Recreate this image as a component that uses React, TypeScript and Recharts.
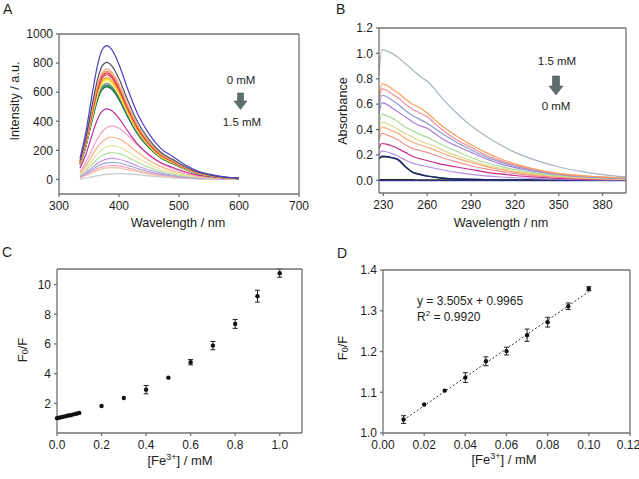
import React from "react";
import {
  LineChart,
  Line,
  XAxis,
  YAxis,
  ScatterChart,
  Scatter,
  ErrorBar,
  ReferenceLine,
} from "recharts";

const FONT = '"Liberation Sans", Arial, Helvetica, sans-serif';
const AXIS = "#707070";
const TICK = { fill: "#1e1e1e", fontSize: 12, fontFamily: FONT };

// ---- A: emission spectra, 0 mM (top) -> 1.5 mM (bottom) ----
const wlA = [335, 345, 355, 365, 372, 380, 388, 400, 415, 430, 450, 470, 490, 510, 530, 550, 575, 600];
const emA01 = [147, 331, 580, 800, 892, 920, 892, 791, 616, 460, 313, 212, 156, 101, 60, 37, 18, 9];
const emA02 = [129, 290, 507, 700, 781, 805, 781, 692, 539, 403, 274, 185, 137, 89, 52, 32, 16, 8];
const emA03 = [122, 274, 479, 661, 737, 760, 737, 654, 509, 380, 258, 175, 129, 84, 49, 30, 15, 8];
const emA04 = [119, 268, 469, 648, 723, 745, 723, 641, 499, 373, 253, 171, 127, 82, 48, 30, 15, 7];
const emA05 = [117, 264, 462, 638, 711, 733, 711, 630, 491, 367, 249, 169, 125, 81, 48, 29, 15, 7];
const emA06 = [115, 259, 454, 626, 698, 720, 698, 619, 482, 360, 245, 166, 122, 79, 47, 29, 14, 7];
const emA07 = [112, 252, 441, 609, 679, 700, 679, 602, 469, 350, 238, 161, 119, 77, 46, 28, 14, 7];
const emA08 = [110, 248, 433, 599, 667, 688, 667, 592, 461, 344, 234, 158, 117, 76, 45, 28, 14, 7];
const emA09 = [108, 243, 425, 587, 655, 675, 655, 581, 452, 338, 230, 155, 115, 74, 44, 27, 14, 7];
const emA10 = [106, 238, 416, 574, 640, 660, 640, 568, 442, 330, 224, 152, 112, 73, 43, 26, 13, 7];
const emA11 = [104, 233, 408, 564, 629, 648, 629, 557, 434, 324, 220, 149, 110, 71, 42, 26, 13, 6];
const emA12 = [102, 230, 402, 555, 619, 638, 619, 549, 427, 319, 217, 147, 108, 70, 41, 26, 13, 6];
const emA13 = [78, 175, 306, 422, 470, 485, 472, 420, 330, 248, 170, 115, 82, 53, 32, 20, 10, 5];
const emA14 = [55, 121, 206, 287, 328, 357, 368, 353, 302, 239, 166, 110, 74, 48, 29, 18, 9, 4];
const emA15 = [44, 96, 164, 228, 260, 283, 292, 280, 239, 190, 131, 88, 58, 38, 23, 15, 7, 3];
const emA16 = [35, 77, 130, 181, 206, 225, 232, 223, 190, 151, 104, 70, 46, 30, 19, 12, 6, 2];
const emA17 = [28, 61, 104, 144, 165, 179, 185, 178, 152, 120, 83, 56, 37, 24, 15, 9, 5, 2];
const emA18 = [22, 48, 81, 113, 129, 141, 145, 139, 119, 94, 65, 44, 29, 19, 12, 7, 4, 1];
const emA19 = [18, 39, 66, 92, 105, 114, 118, 113, 97, 77, 53, 35, 24, 15, 9, 6, 3, 1];
const emA20 = [15, 32, 54, 76, 86, 94, 97, 93, 80, 63, 44, 29, 19, 13, 8, 5, 2, 1];
const emA21 = [12, 27, 46, 64, 73, 80, 82, 79, 67, 53, 37, 25, 16, 11, 7, 4, 2, 1];
const emA22 = [2, 10, 18, 26, 31, 35, 38, 40, 38, 33, 24, 17, 11, 7, 4, 3, 1, 0];
const seriesA = [emA01, emA02, emA03, emA04, emA05, emA06, emA07, emA08, emA09, emA10, emA11,
  emA12, emA13, emA14, emA15, emA16, emA17, emA18, emA19, emA20, emA21, emA22];
const colorsA = ["#4b3fc0", "#4d5068", "#f2a86a", "#f08c78", "#e8342e", "#d8285a", "#f7a21a",
  "#f2e21e", "#f4ee7a", "#6f8a86", "#1f8a48", "#0b5a36", "#c0309a", "#f4a0c8", "#f8ad84",
  "#e6e29c", "#b2e39a", "#c49ae4", "#98acd0", "#f4a8c8", "#f9c09a", "#c4ccd4"];
const xTicksA = [300, 400, 500, 600, 700];
const yTicksA = [0, 200, 400, 600, 800, 1000];

// ---- B: absorption spectra, 1.5 mM (top) -> 0 mM (bottom) ----
const wlB = [227, 229, 232, 236, 240, 245, 250, 255, 260, 265, 270, 280, 290, 300, 310, 320, 335, 350, 365, 380, 396];
const abB01 = [0.84, 1.03, 1.02, 1.0, 0.97, 0.92, 0.87, 0.82, 0.78, 0.72, 0.65, 0.53, 0.43, 0.35, 0.28, 0.22, 0.155, 0.105, 0.07, 0.045, 0.027];
const abB02 = [0.64, 0.76, 0.75, 0.72, 0.69, 0.64, 0.6, 0.57, 0.53, 0.48, 0.43, 0.35, 0.28, 0.22, 0.17, 0.13, 0.085, 0.055, 0.038, 0.027, 0.018];
const abB03 = [0.6, 0.72, 0.71, 0.68, 0.65, 0.6, 0.56, 0.53, 0.5, 0.45, 0.4, 0.32, 0.26, 0.2, 0.155, 0.12, 0.08, 0.05, 0.035, 0.025, 0.016];
const abB04 = [0.56, 0.67, 0.66, 0.63, 0.6, 0.55, 0.51, 0.48, 0.45, 0.41, 0.37, 0.3, 0.24, 0.185, 0.145, 0.11, 0.075, 0.048, 0.032, 0.022, 0.015];
const abB05 = [0.52, 0.61, 0.6, 0.57, 0.54, 0.5, 0.46, 0.43, 0.41, 0.37, 0.33, 0.27, 0.22, 0.17, 0.13, 0.1, 0.068, 0.044, 0.03, 0.02, 0.014];
const abB06 = [0.44, 0.52, 0.51, 0.49, 0.46, 0.42, 0.39, 0.36, 0.34, 0.31, 0.28, 0.23, 0.18, 0.14, 0.11, 0.085, 0.057, 0.037, 0.025, 0.017, 0.011];
const abB07 = [0.39, 0.46, 0.45, 0.43, 0.4, 0.37, 0.34, 0.31, 0.29, 0.27, 0.24, 0.195, 0.155, 0.12, 0.095, 0.072, 0.048, 0.032, 0.022, 0.015, 0.01];
const abB08 = [0.36, 0.42, 0.41, 0.39, 0.37, 0.33, 0.3, 0.28, 0.26, 0.24, 0.215, 0.175, 0.14, 0.11, 0.085, 0.065, 0.043, 0.028, 0.019, 0.013, 0.009];
const abB09 = [0.32, 0.37, 0.36, 0.34, 0.32, 0.28, 0.25, 0.235, 0.22, 0.2, 0.18, 0.145, 0.115, 0.09, 0.07, 0.053, 0.035, 0.023, 0.015, 0.01, 0.007];
const abB10 = [0.25, 0.29, 0.285, 0.27, 0.25, 0.22, 0.19, 0.17, 0.155, 0.14, 0.125, 0.105, 0.085, 0.065, 0.05, 0.038, 0.025, 0.016, 0.01, 0.007, 0.005];
const abB11 = [0.2, 0.23, 0.225, 0.21, 0.19, 0.16, 0.135, 0.12, 0.108, 0.095, 0.083, 0.063, 0.047, 0.035, 0.026, 0.02, 0.013, 0.009, 0.006, 0.004, 0.003];
const abB12 = [0.17, 0.19, 0.188, 0.18, 0.165, 0.11, 0.062, 0.045, 0.032, 0.024, 0.017, 0.01, 0.007, 0.005, 0.004, 0.003, 0.002, 0.002, 0.001, 0.001, 0.001];
const abB13 = [0.165, 0.185, 0.184, 0.176, 0.16, 0.105, 0.066, 0.049, 0.036, 0.027, 0.02, 0.012, 0.008, 0.006, 0.004, 0.003, 0.002, 0.002, 0.001, 0.001, 0.001];
const abB14 = [0.168, 0.187, 0.185, 0.177, 0.162, 0.108, 0.064, 0.047, 0.034, 0.025, 0.018, 0.011, 0.007, 0.005, 0.004, 0.003, 0.002, 0.001, 0.001, 0.001, 0.001];
const abB15 = [0.006, 0.006, 0.005, 0.005, 0.005, 0.005, 0.005, 0.004, 0.004, 0.004, 0.004, 0.004, 0.004, 0.003, 0.003, 0.003, 0.003, 0.003, 0.003, 0.003, 0.003];
const abB16 = [-0.002, -0.002, -0.002, -0.002, -0.002, -0.002, -0.002, -0.002, -0.002, -0.002, -0.002, -0.002, -0.002, -0.002, -0.002, -0.002, -0.002, -0.002, -0.002, -0.002, -0.002];
const seriesB = [abB01, abB02, abB03, abB04, abB05, abB06, abB07, abB08, abB09, abB10, abB11,
  abB12, abB13, abB14, abB15, abB16];
const colorsB = ["#a8b4c0", "#f7a05a", "#f48aa0", "#8c9cd0", "#a67ed6", "#a6dc96", "#e0d68a",
  "#f8a870", "#f29090", "#c8288a", "#b890e0", "#1e1e70", "#2c6a4a", "#404c68", "#222222", "#3c3cc8"];
const xTicksB = [230, 260, 290, 320, 350, 380];
const yTicksB = [0, 0.2, 0.4, 0.6, 0.8, 1.0, 1.2];

// ---- C: F0/F vs [Fe3+], full range ----
const concC = [0, 0.01, 0.02, 0.03, 0.04, 0.05, 0.06, 0.07, 0.08, 0.09, 0.1, 0.2, 0.3, 0.4, 0.5, 0.6, 0.7, 0.8, 0.9, 1.0];
const ratioC = [1.0, 1.03, 1.068, 1.104, 1.136, 1.176, 1.201, 1.24, 1.272, 1.311, 1.354, 1.82, 2.36, 2.92, 3.73, 4.77, 5.89, 7.35, 9.22, 10.77];
const errC = [0, 0, 0, 0, 0, 0, 0, 0, 0, 0, 0, 0, 0, 0.28, 0, 0.18, 0.28, 0.3, 0.4, 0.28];
const xTicksC = [0, 0.2, 0.4, 0.6, 0.8, 1.0];
const yTicksC = [2, 4, 6, 8, 10];

// ---- D: linear range ----
const concD = [0.01, 0.02, 0.03, 0.04, 0.05, 0.06, 0.07, 0.08, 0.09, 0.1];
const ratioD = [1.033, 1.07, 1.104, 1.136, 1.176, 1.201, 1.24, 1.272, 1.311, 1.354];
const errD = [0.0095, 0, 0, 0.012, 0.011, 0.0095, 0.015, 0.012, 0.008, 0.005];
const fitX = [0.01, 0.1];
const fitY = [1.032, 1.347];
const xTicksD = [0, 0.02, 0.04, 0.06, 0.08, 0.1, 0.12];
const yTicksD = [1.0, 1.1, 1.2, 1.3, 1.4];

const dataA = wlA.map((w, i) => {
  const row: any = { w };
  seriesA.forEach((s, k) => (row["s" + k] = s[i]));
  return row;
});
const dataB = wlB.map((w, i) => {
  const row: any = { w };
  seriesB.forEach((s, k) => (row["s" + k] = s[i]));
  return row;
});
const dataC = concC.map((x, i) => ({ x, y: ratioC[i], e: errC[i] }));
const dataD = concD.map((x, i) => ({ x, y: ratioD[i], e: errD[i] }));

// top / right mirror axes to close the box (size 1, a zero size is not drawn)
function frame(xd: number[], xt: number[], yd: number[], yt: number[]) {
  return [
    <XAxis key="xt" xAxisId="top" orientation="top" type="number" domain={xd} ticks={xt}
      tick={false} height={1} stroke={AXIS} strokeWidth={1.3} tickSize={3} allowDataOverflow />,
    <YAxis key="yr" yAxisId="right" orientation="right" type="number" domain={yd} ticks={yt}
      tick={false} width={1} stroke={AXIS} strokeWidth={1.3} tickSize={3} allowDataOverflow />,
  ];
}

const dot = (p: any) => <circle cx={p.cx} cy={p.cy} r={2.2} fill="#111" />;

export default function App() {
  return (
    <div style={{ position: "absolute", left: 0, top: 0, width: 639, height: 479, background: "#fff", fontFamily: FONT }}>
      <div style={{ position: "absolute", left: 0, top: 0 }}>
        <LineChart width={320} height={240} data={dataA} margin={{ top: 33, right: 20, bottom: 16, left: 14 }}>
          <XAxis dataKey="w" type="number" domain={[300, 700]} ticks={xTicksA} tick={TICK}
            stroke={AXIS} strokeWidth={1.3} tickSize={3} tickMargin={4} height={30} />
          <YAxis type="number" domain={[-100, 1000]} ticks={yTicksA} tick={TICK}
            stroke={AXIS} strokeWidth={1.3} tickSize={3} tickMargin={3} width={45} />
          {frame([300, 700], xTicksA, [-100, 1000], yTicksA)}
          {seriesA.map((_, k) => seriesA.length - 1 - k).map((k) => (
            <Line key={k} dataKey={"s" + k} type="monotone" stroke={colorsA[k]} strokeWidth={1.2}
              dot={false} isAnimationActive={false} />
          ))}
        </LineChart>
      </div>

      <div style={{ position: "absolute", left: 320, top: 0 }}>
        <LineChart width={319} height={240} data={dataB} margin={{ top: 27, right: 12, bottom: 17, left: 14 }}>
          <XAxis dataKey="w" type="number" domain={[227, 396]} ticks={xTicksB} tick={TICK}
            stroke={AXIS} strokeWidth={1.3} tickSize={3} tickMargin={4} height={30} allowDataOverflow />
          <YAxis type="number" domain={[-0.1, 1.2]} ticks={yTicksB} tick={TICK}
            tickFormatter={(v: number) => v.toFixed(1)}
            stroke={AXIS} strokeWidth={1.3} tickSize={3} tickMargin={3} width={45} />
          {frame([227, 396], xTicksB, [-0.1, 1.2], yTicksB)}
          {seriesB.map((_, k) => seriesB.length - 1 - k).map((k) => (
            <Line key={k} dataKey={"s" + k} type="monotone" stroke={colorsB[k]} strokeWidth={1.2}
              dot={false} isAnimationActive={false} />
          ))}
        </LineChart>
      </div>

      <div style={{ position: "absolute", left: 0, top: 240 }}>
        <ScatterChart width={320} height={239} margin={{ top: 28, right: 17, bottom: 16, left: 12 }}>
          <XAxis dataKey="x" type="number" domain={[0, 1.1]} ticks={xTicksC} tick={TICK}
            tickFormatter={(v: number) => v.toFixed(1)}
            stroke={AXIS} strokeWidth={1.3} tickSize={3} tickMargin={4} height={30} />
          <YAxis dataKey="y" type="number" domain={[0, 11]} ticks={yTicksC} tick={TICK}
            stroke={AXIS} strokeWidth={1.3} tickSize={3} tickMargin={3} width={45} />
          {frame([0, 1.1], xTicksC, [0, 11], yTicksC)}
          <Scatter data={dataC} shape={dot} isAnimationActive={false}>
            <ErrorBar dataKey="e" direction="y" width={2.5} stroke="#222" strokeWidth={1} />
          </Scatter>
        </ScatterChart>
      </div>

      <div style={{ position: "absolute", left: 320, top: 240 }}>
        <ScatterChart width={319} height={239} margin={{ top: 29, right: 8, bottom: 16, left: 18 }}>
          <XAxis dataKey="x" type="number" domain={[0, 0.12]} ticks={xTicksD} tick={TICK}
            tickFormatter={(v: number) => v.toFixed(2)}
            stroke={AXIS} strokeWidth={1.3} tickSize={3} tickMargin={4} height={30} />
          <YAxis dataKey="y" type="number" domain={[1.0, 1.4]} ticks={yTicksD} tick={TICK}
            tickFormatter={(v: number) => v.toFixed(1)}
            stroke={AXIS} strokeWidth={1.3} tickSize={3} tickMargin={3} width={45} />
          {frame([0, 0.12], xTicksD, [1.0, 1.4], yTicksD)}
          <ReferenceLine segment={[{ x: fitX[0], y: fitY[0] }, { x: fitX[1], y: fitY[1] }]}
            stroke="#333" strokeWidth={1} strokeDasharray="2 2" />
          <Scatter data={dataD} shape={dot} isAnimationActive={false}>
            <ErrorBar dataKey="e" direction="y" width={2.5} stroke="#222" strokeWidth={1} />
          </Scatter>
        </ScatterChart>
      </div>

      <svg width={639} height={479} style={{ position: "absolute", left: 0, top: 0, pointerEvents: "none" }}
        fontFamily={FONT} fill="#1e1e1e">
        <text x={3} y={14} fontSize={14}>A</text>
        <text x={336} y={14} fontSize={14}>B</text>
        <text x={2} y={257} fontSize={14}>C</text>
        <text x={337} y={258} fontSize={14}>D</text>

        <text x={15} y={101} fontSize={12.7} textAnchor="middle" dominantBaseline="central"
          transform="rotate(-90 15 101)">Intensity / a.u.</text>
        <text x={178} y={227} fontSize={12.7} textAnchor="middle">Wavelength / nm</text>
        <text x={343} y={111} fontSize={12.7} textAnchor="middle" dominantBaseline="central"
          transform="rotate(-90 343 111)">Absorbance</text>
        <text x={501} y={227} fontSize={12.7} textAnchor="middle">Wavelength / nm</text>

        <text x={22} y={350} fontSize={13} textAnchor="middle" dominantBaseline="central"
          transform="rotate(-90 22 350)">F<tspan fontSize={9} dy={3}>0</tspan><tspan dy={-3}>/F</tspan></text>
        <text x={180} y={465} fontSize={13} textAnchor="middle">[Fe<tspan fontSize={9} dy={-5}>3+</tspan><tspan dy={5}>] / mM</tspan></text>
        <text x={342} y={348} fontSize={13} textAnchor="middle" dominantBaseline="central"
          transform="rotate(-90 342 348)">F<tspan fontSize={9} dy={3}>0</tspan><tspan dy={-3}>/F</tspan></text>
        <text x={504} y={464} fontSize={13} textAnchor="middle">[Fe<tspan fontSize={9} dy={-5}>3+</tspan><tspan dy={5}>] / mM</tspan></text>

        <text x={241} y={84} fontSize={11.5} textAnchor="middle">0 mM</text>
        <polygon points="237.5,93 243.5,93 243.5,101 247,101 240.5,109.5 234,101 237.5,101" fill="#5f6f6f" stroke="#4a5858" strokeWidth={0.6} />
        <text x={242} y={126} fontSize={11.5} textAnchor="middle">1.5 mM</text>

        <text x={557} y={65} fontSize={11.5} textAnchor="middle">1.5 mM</text>
        <polygon points="552.5,76 559.5,76 559.5,86 563,86 556,95 549,86 552.5,86" fill="#5f6f6f" stroke="#4a5858" strokeWidth={0.6} />
        <text x={556} y={109.5} fontSize={11.5} textAnchor="middle">0 mM</text>

        <text x={417} y={305} fontSize={12}>y = 3.505x + 0.9965</text>
        <text x={417} y={321} fontSize={12}>R<tspan fontSize={8} dy={-5}>2</tspan><tspan dy={5}> = 0.9920</tspan></text>
      </svg>
    </div>
  );
}
